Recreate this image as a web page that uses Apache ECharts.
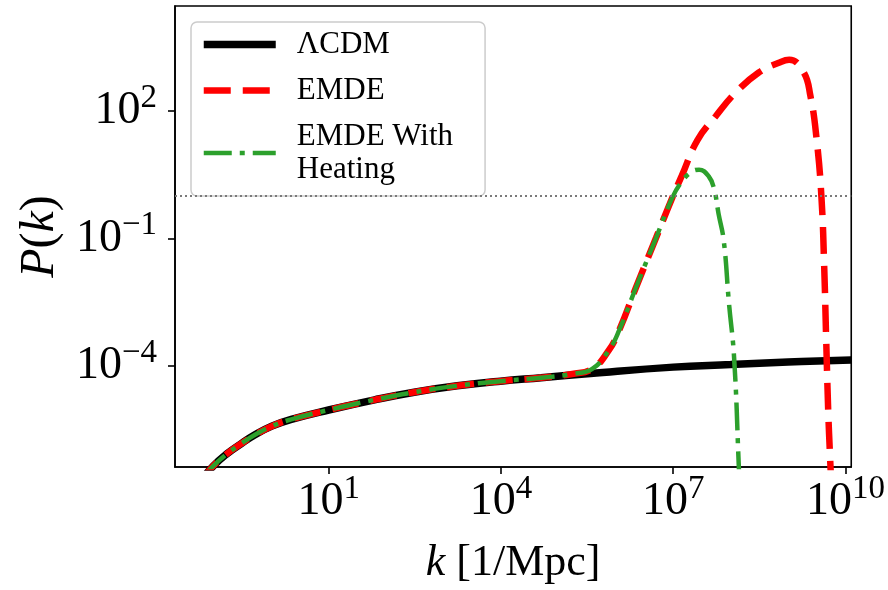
<!DOCTYPE html>
<html>
<head>
<meta charset="utf-8">
<script src="https://cdn.jsdelivr.net/npm/echarts@6/dist/echarts.min.js"></script>
<style>
html,body{margin:0;padding:0;background:#fff;}
#chart{width:888px;height:590px;}
</style>
</head>
<body>
<div id="chart"></div>
<script>
// log10(k [1/Mpc]) and log10(P(k))
const lcdmK = [-1.70, -1.30, -1.01, -0.77, -0.52, -0.29, 0.01, 0.35, 1.00, 1.80, 2.49, 3.24, 3.99, 4.70, 5.56, 7.00, 8.00, 9.00, 10.10];
const lcdmP = [-7.45, -6.82, -6.36, -6.07, -5.83, -5.63, -5.42, -5.26, -5.04, -4.80, -4.62, -4.47, -4.36, -4.28, -4.18, -4.03, -3.97, -3.91, -3.86];

const emdeK = [-1.70, -1.30, -1.01, -0.77, -0.52, -0.29, 0.01, 0.35, 1.00, 1.80, 2.49, 3.24, 3.99, 4.70, 5.24, 5.59, 5.88, 6.06, 6.35, 6.70, 6.98, 7.15, 7.42, 7.74, 8.09, 8.49, 8.84, 9.02, 9.27, 9.39, 9.49, 9.58, 9.63, 9.66, 9.70, 9.73, 9.76];
const emdeP = [-7.45, -6.82, -6.36, -6.07, -5.83, -5.63, -5.42, -5.26, -5.04, -4.80, -4.62, -4.47, -4.36, -4.28, -4.19, -4.07, -3.63, -3.16, -2.16, -0.99, -0.05, 0.48, 1.31, 1.88, 2.44, 2.91, 3.14, 3.21, 2.92, 2.35, 1.43, 0.00, -1.70, -3.20, -5.10, -6.10, -7.06];

const heatK = [-1.70, -1.30, -1.01, -0.77, -0.52, -0.29, 0.01, 0.35, 1.00, 1.80, 2.49, 3.24, 3.99, 4.70, 5.24, 5.59, 5.88, 6.06, 6.35, 6.70, 6.98, 7.15, 7.32, 7.45, 7.62, 7.71, 7.79, 7.88, 7.97, 8.06, 8.14, 8.16];
const heatP = [-7.45, -6.82, -6.36, -6.07, -5.83, -5.63, -5.42, -5.26, -5.04, -4.80, -4.62, -4.47, -4.36, -4.28, -4.19, -4.07, -3.63, -3.16, -2.16, -0.99, -0.05, 0.34, 0.57, 0.62, 0.46, 0.18, -0.42, -1.05, -2.51, -3.80, -6.29, -7.06];

const xTickExp = [1, 4, 7, 10];
const yTickExp = [-4, -1, 2];
const thresholdExp = 0; // horizontal dotted line at P = 1

const seriesNames = ['ΛCDM', 'EMDE', 'EMDE With\nHeating'];
const colors = ['#000000', '#ff0000', '#2ca02c'];
const widths = [7.5, 6.5, 4.5];
const dashes = ['solid', [27, 12], [28, 8, 5, 8]];

function pairs(xs, ys) { return xs.map((x, i) => [x, ys[i]]); }
function sup(v) { return v < 0 ? '\u2212' + (-v) : String(v); }
const labelRich = {
  b: { fontFamily: 'Liberation Serif', fontSize: 46, lineHeight: 46, height: 46, color: '#000', verticalAlign: 'bottom' },
  s: { fontFamily: 'Liberation Serif', fontSize: 33, lineHeight: 20, height: 20, color: '#000', verticalAlign: 'top' }
};
const fmt = v => '{b|10}{s|' + sup(Math.round(v)) + '}';

function makeSeries(i, xs, ys, extra) {
  return Object.assign({
    name: seriesNames[i], type: 'line', data: pairs(xs, ys),
    showSymbol: false, symbol: 'none', smooth: 0.45,
    lineStyle: { color: colors[i], width: widths[i], type: dashes[i] },
    itemStyle: { color: colors[i] }
  }, extra || {});
}

const chart = echarts.init(document.getElementById('chart'), null, { renderer: 'canvas' });
chart.setOption({
  animation: false,
  backgroundColor: '#fff',
  grid: { left: 175, right: 35, top: 6, bottom: 119, show: true, borderColor: '#000', borderWidth: 1.6, backgroundColor: 'transparent' },
  legend: {
    data: seriesNames.map((n, i) => ({
      name: n,
      itemStyle: { opacity: 0, color: 'transparent', borderWidth: 0 },
      lineStyle: { color: colors[i], width: widths[i], type: dashes[i], opacity: 1 }
    })),
    orient: 'vertical',
    left: 191, top: 22,
    itemWidth: 72, itemHeight: 20, itemGap: 13,
    padding: [6, 32, 10, 9],
    backgroundColor: 'rgba(255,255,255,0.85)',
    borderColor: '#cccccc', borderWidth: 1.5, borderRadius: 6,
    selectedMode: false,
    itemStyle: { opacity: 0, borderWidth: 0 },
    textStyle: { fontFamily: 'Liberation Serif', fontSize: 31, lineHeight: 33, color: '#000', padding: [0, 0, 0, 16] }
  },
  xAxis: {
    type: 'value', min: -1.675, max: 10.10,
    name: '{i|k}{n| [1/Mpc]}', nameLocation: 'middle', nameGap: 74,
    nameTextStyle: { rich: {
      i: { fontFamily: 'Liberation Serif', fontStyle: 'italic', fontSize: 44, color: '#000' },
      n: { fontFamily: 'Liberation Serif', fontSize: 44, color: '#000' }
    } },
    axisLine: { show: true, onZero: false, lineStyle: { color: '#000', width: 1.6 } },
    axisTick: { show: true, inside: false, length: 7, lineStyle: { color: '#000', width: 1.6 }, customValues: xTickExp },
    axisLabel: { margin: 12, formatter: fmt, rich: labelRich, customValues: xTickExp },
    splitLine: { show: false }
  },
  yAxis: {
    type: 'value', min: -6.382, max: 4.475,
    name: '{p|P}{n|(}{p|k}{n|)}', nameLocation: 'middle', nameGap: 111, nameRotate: 90,
    nameTextStyle: { rich: {
      p: { fontFamily: 'Liberation Serif', fontStyle: 'italic', fontSize: 48, color: '#000' },
      n: { fontFamily: 'Liberation Serif', fontSize: 48, color: '#000' }
    } },
    axisLine: { show: true, onZero: false, lineStyle: { color: '#000', width: 1.6 } },
    axisTick: { show: true, inside: false, length: 7, lineStyle: { color: '#000', width: 1.6 }, customValues: yTickExp },
    axisLabel: { margin: 18, formatter: fmt, rich: labelRich, customValues: yTickExp },
    splitLine: { show: false }
  },
  series: [
    makeSeries(0, lcdmK, lcdmP),
    makeSeries(1, emdeK, emdeP),
    makeSeries(2, heatK, heatP, {
      markLine: {
        silent: true, symbol: 'none', animation: false,
        label: { show: false },
        lineStyle: { color: '#7a7a7a', width: 2, type: [2, 3] },
        data: [{ yAxis: thresholdExp }]
      }
    })
  ]
});
</script>
</body>
</html>
